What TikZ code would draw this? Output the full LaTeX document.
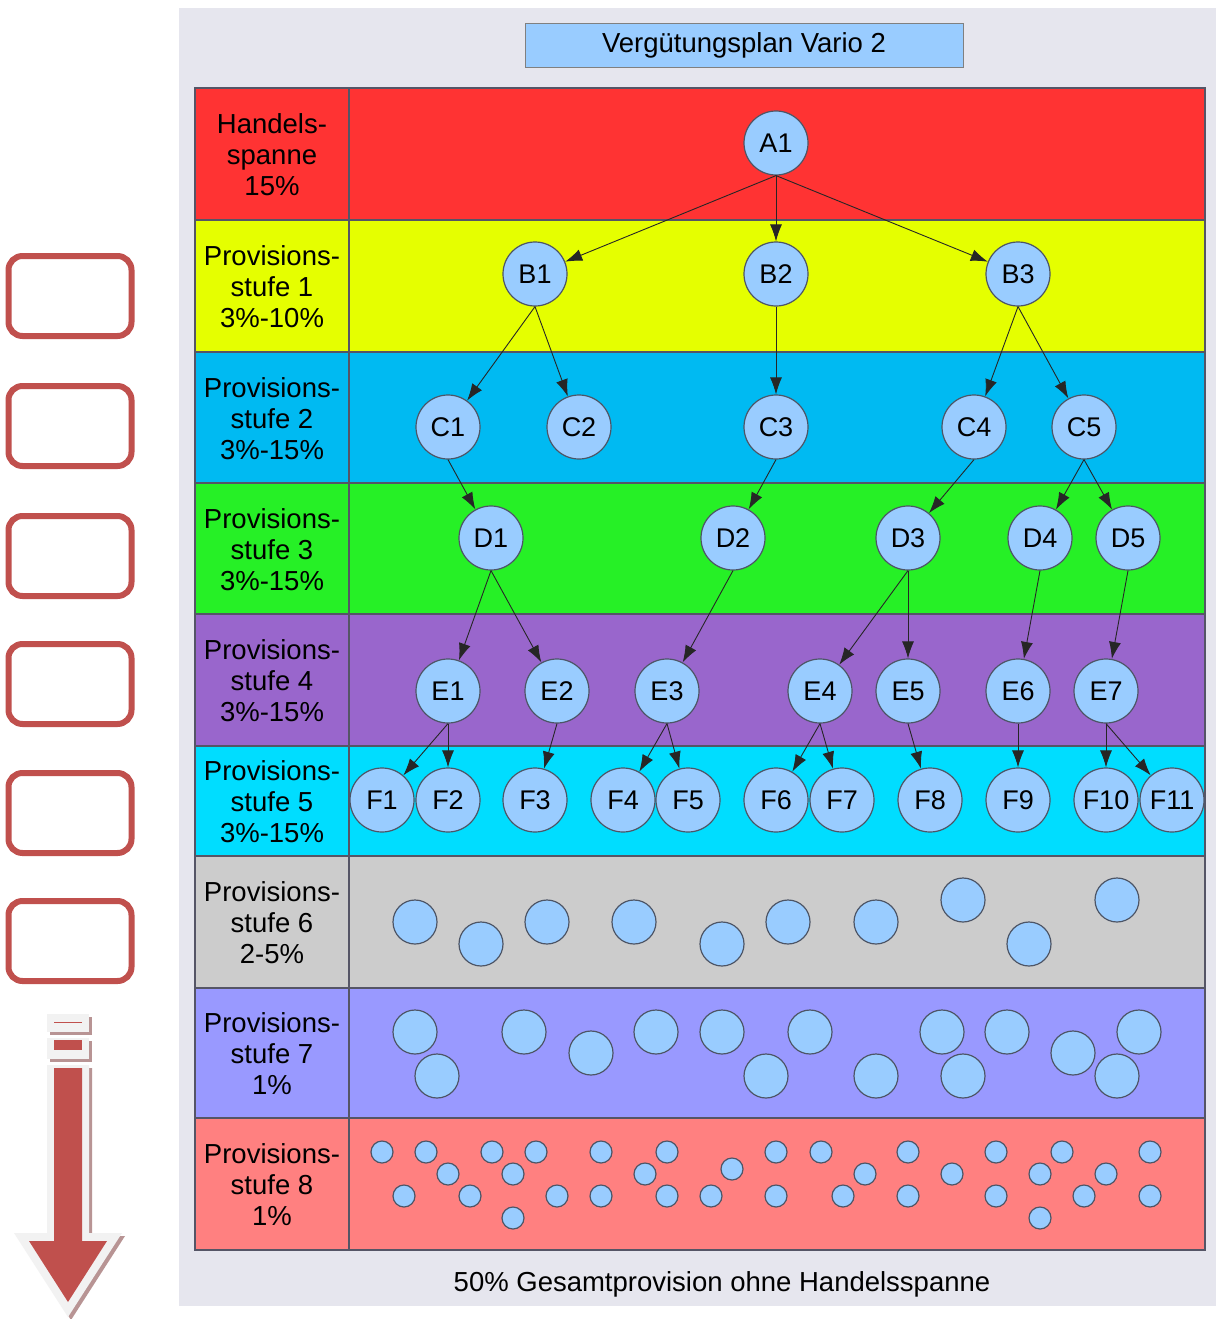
\documentclass[tikz,border=0pt]{standalone}
\usepackage{fontspec}
\setmainfont{Liberation Sans}
\usepackage{xcolor}
\usetikzlibrary{arrows.meta,positioning}
\definecolor{panelgray}{HTML}{E6E6EE}
\definecolor{titleblue}{HTML}{99CCFF}
\definecolor{nodefill}{HTML}{99CCFF}
\definecolor{nodeedge}{HTML}{4D5566}
\definecolor{rowline}{HTML}{555566}
\definecolor{lvlred}{HTML}{FF3333}
\definecolor{lvlyellow}{HTML}{E5FF00}
\definecolor{lvlblue}{HTML}{00BAF2}
\definecolor{lvlgreen}{HTML}{26F026}
\definecolor{lvlpurple}{HTML}{9966CC}
\definecolor{lvlcyan}{HTML}{00DDFF}
\definecolor{lvlgray}{HTML}{CCCCCC}
\definecolor{lvllav}{HTML}{9999FF}
\definecolor{lvlsalmon}{HTML}{FF8080}
\definecolor{markred}{HTML}{C0504D}
\definecolor{arrowwhite}{HTML}{F2F2F2}
\definecolor{arrowshadow}{HTML}{B89494}

\begin{document}
\begin{tikzpicture}[x=1pt, y=-1pt]
% Define styles
\tikzstyle{member} = [circle, draw=nodeedge, fill=nodefill, line width=1.2pt, minimum size=64pt, inner sep=0pt, font=\fontsize{27}{27}\selectfont]
\tikzstyle{slotmid} = [circle, draw=nodeedge, fill=nodefill, line width=1.2pt, minimum size=44pt, inner sep=0pt]
\tikzstyle{slotsmall} = [circle, draw=nodeedge, fill=nodefill, line width=1.2pt, minimum size=22pt, inner sep=0pt]
\tikzstyle{level} = [align=center, font=\fontsize{27.5}{31}\selectfont]
\tikzstyle{marker} = [rectangle, rounded corners=14pt, draw=markred, line width=6pt, fill=white, minimum width=123pt, minimum height=80pt, inner sep=0pt]
\tikzstyle{arrow} = [line width=0.9pt, draw=black!85, -{Latex[length=17pt,width=12pt]}]

\useasboundingbox (0,0) rectangle (1216,1319);
\fill[white] (0,0) rectangle (1216,1319);
\fill[panelgray] (179,8) rectangle (1216,1306);

% Title
\node (title) [draw=gray, fill=titleblue, minimum width=438pt, minimum height=44pt, inner sep=0pt, font=\fontsize{27.5}{27.5}\selectfont] at (744,45) {Vergütungsplan Vario 2};

% Level rows
\filldraw[fill=lvlred, draw=rowline, line width=1.2pt] (195,88) rectangle (1205,220);
\filldraw[fill=lvlyellow, draw=rowline, line width=1.2pt] (195,220) rectangle (1205,352);
\filldraw[fill=lvlblue, draw=rowline, line width=1.2pt] (195,352) rectangle (1205,483);
\filldraw[fill=lvlgreen, draw=rowline, line width=1.2pt] (195,483) rectangle (1205,614);
\filldraw[fill=lvlpurple, draw=rowline, line width=1.2pt] (195,614) rectangle (1205,746);
\filldraw[fill=lvlcyan, draw=rowline, line width=1.2pt] (195,746) rectangle (1205,856);
\filldraw[fill=lvlgray, draw=rowline, line width=1.2pt] (195,856) rectangle (1205,988);
\filldraw[fill=lvllav, draw=rowline, line width=1.2pt] (195,988) rectangle (1205,1118);
\filldraw[fill=lvlsalmon, draw=rowline, line width=1.2pt] (195,1118) rectangle (1205,1250);
\draw[rowline, line width=1.2pt] (349,88) -- (349,1250);

% Row labels
\node (lab0) [level] at (272,155) {Handels-\\spanne\\15\%};
\node (lab1) [level] at (272,287) {Provisions-\\stufe 1\\3\%-10\%};
\node (lab2) [level] at (272,419) {Provisions-\\stufe 2\\3\%-15\%};
\node (lab3) [level] at (272,550) {Provisions-\\stufe 3\\3\%-15\%};
\node (lab4) [level] at (272,681) {Provisions-\\stufe 4\\3\%-15\%};
\node (lab5) [level] at (272,802) {Provisions-\\stufe 5\\3\%-15\%};
\node (lab6) [level] at (272,923) {Provisions-\\stufe 6\\2-5\%};
\node (lab7) [level] at (272,1054) {Provisions-\\stufe 7\\1\%};
\node (lab8) [level] at (272,1185) {Provisions-\\stufe 8\\1\%};

% Place nodes
\node (A1) [member] at (776,143) {A1};
\node (B1) [member] at (535,274) {B1};
\node (B2) [member] at (776,274) {B2};
\node (B3) [member] at (1018,274) {B3};
\node (C1) [member] at (448,427) {C1};
\node (C2) [member] at (579,427) {C2};
\node (C3) [member] at (776,427) {C3};
\node (C4) [member] at (974,427) {C4};
\node (C5) [member] at (1084,427) {C5};
\node (D1) [member] at (491,538) {D1};
\node (D2) [member] at (733,538) {D2};
\node (D3) [member] at (908,538) {D3};
\node (D4) [member] at (1040,538) {D4};
\node (D5) [member] at (1128,538) {D5};
\node (E1) [member] at (448,691) {E1};
\node (E2) [member] at (557,691) {E2};
\node (E3) [member] at (667,691) {E3};
\node (E4) [member] at (820,691) {E4};
\node (E5) [member] at (908,691) {E5};
\node (E6) [member] at (1018,691) {E6};
\node (E7) [member] at (1106,691) {E7};
\node (F1) [member] at (382,800) {F1};
\node (F2) [member] at (448,800) {F2};
\node (F3) [member] at (535,800) {F3};
\node (F4) [member] at (623,800) {F4};
\node (F5) [member] at (688,800) {F5};
\node (F6) [member] at (776,800) {F6};
\node (F7) [member] at (842,800) {F7};
\node (F8) [member] at (930,800) {F8};
\node (F9) [member] at (1018,800) {F9};
\node (F10) [member] at (1106,800) {F10};
\node (F11) [member] at (1172,800) {F11};

% Open places, levels 6 to 8
\foreach \x/\y [count=\i] in {415/922, 481/944, 547/922, 634/922, 722/944, 788/922, 876/922, 963/900, 1029/944, 1117/900}
  \node (g\i) [slotmid] at (\x,\y) {};
\foreach \x/\y [count=\i] in {415/1032, 437/1076, 524/1032, 591/1053, 656/1032, 722/1032, 766/1076, 810/1032, 876/1076, 942/1032, 963/1076, 1007/1032, 1073/1053, 1117/1076, 1139/1032}
  \node (h\i) [slotmid] at (\x,\y) {};
\foreach \x/\y [count=\i] in {382/1152, 426/1152, 448/1174, 404/1196, 470/1196, 492/1152, 536/1152, 513/1174, 513/1218, 557/1196, 601/1152, 601/1196, 667/1152, 645/1174, 667/1196, 711/1196, 732/1169, 776/1152, 776/1196, 821/1152, 865/1174, 843/1196, 908/1152, 908/1196, 952/1174, 996/1152, 996/1196, 1040/1174, 1040/1218, 1062/1152, 1084/1196, 1106/1174, 1150/1152, 1150/1196}
  \node (k\i) [slotsmall] at (\x,\y) {};

% Draw arrows
\draw [arrow] (A1.south) -- (B1);
\draw [arrow] (A1.south) -- (B2);
\draw [arrow] (A1.south) -- (B3);
\draw [arrow] (B1.south) -- (C1);
\draw [arrow] (B1.south) -- (C2);
\draw [arrow] (B2.south) -- (C3);
\draw [arrow] (B3.south) -- (C4);
\draw [arrow] (B3.south) -- (C5);
\draw [arrow] (C1.south) -- (D1);
\draw [arrow] (C3.south) -- (D2);
\draw [arrow] (C4.south) -- (D3);
\draw [arrow] (C5.south) -- (D4);
\draw [arrow] (C5.south) -- (D5);
\draw [arrow] (D1.south) -- (E1);
\draw [arrow] (D1.south) -- (E2);
\draw [arrow] (D2.south) -- (E3);
\draw [arrow] (D3.south) -- (E4);
\draw [arrow] (D3.south) -- (E5);
\draw [arrow] (D4.south) -- (E6);
\draw [arrow] (D5.south) -- (E7);
\draw [arrow] (E1.south) -- (F1);
\draw [arrow] (E1.south) -- (F2);
\draw [arrow] (E2.south) -- (F3);
\draw [arrow] (E3.south) -- (F4);
\draw [arrow] (E3.south) -- (F5);
\draw [arrow] (E4.south) -- (F6);
\draw [arrow] (E4.south) -- (F7);
\draw [arrow] (E5.south) -- (F8);
\draw [arrow] (E6.south) -- (F9);
\draw [arrow] (E7.south) -- (F10);
\draw [arrow] (E7.south) -- (F11);

% Footer
\node (total) [font=\fontsize{27.5}{27.5}\selectfont] at (722,1284) {50\% Gesamtprovision ohne Handelsspanne};

% Markers on the left
\node (m1) [marker] at (70,296) {};
\node (m2) [marker] at (70,426) {};
\node (m3) [marker] at (70,556) {};
\node (m4) [marker] at (70,684) {};
\node (m5) [marker] at (70,813) {};
\node (m6) [marker] at (70,941) {};

% Down arrow
\begin{scope}[shift={(3,3)}]
\fill[arrowshadow] (47,1014) rectangle (89,1032);
\fill[arrowshadow] (47,1038) rectangle (89,1059);
\fill[arrowshadow] (47,1065) -- (89,1065) -- (89,1233) -- (122,1233) -- (68,1317) -- (14,1233) -- (47,1233) -- cycle;
\end{scope}
\fill[arrowwhite] (47,1014) rectangle (89,1032);
\fill[arrowwhite] (47,1038) rectangle (89,1059);
\fill[arrowwhite] (47,1065) -- (89,1065) -- (89,1233) -- (122,1233) -- (68,1317) -- (14,1233) -- (47,1233) -- cycle;
\draw[markred, line width=1pt] (54,1022) -- (82,1022);
\fill[markred] (54,1040) rectangle (82,1050);
\fill[markred] (54,1068) -- (82,1068) -- (82,1241) -- (107,1241) -- (68,1302) -- (29,1241) -- (54,1241) -- cycle;
\end{tikzpicture}
\end{document}
